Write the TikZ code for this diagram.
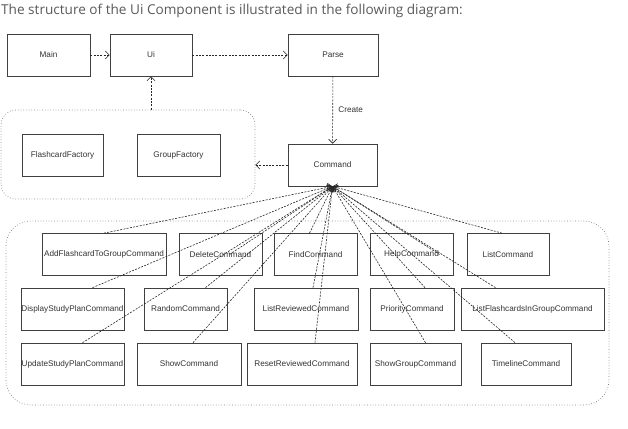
\documentclass[tikz,border=0pt]{standalone}
\usepackage{fontspec}
\setmainfont{Liberation Sans}
\newfontfamily\titlefont{Open Sans}
\usetikzlibrary{arrows.meta}

\begin{document}
\begin{tikzpicture}[x=1pt, y=-1pt,
  box/.style={draw=black!75, line width=0.7pt, inner sep=0pt, minimum height=42pt,
    font=\fontsize{8.2}{10}\selectfont, text=black!80},
  grp/.style={draw=black!50, dotted, line width=0.7pt, inner sep=0pt},
  dep/.style={black!85, dash pattern=on 2pt off 1.3pt, line width=0.6pt,
    -{Straight Barb[length=4pt, width=8pt]}}]
  \useasboundingbox (0, 0) rectangle (628, 428);
  \node[anchor=base west, inner sep=0pt, text=black!65,
    font=\titlefont\fontsize{13.6}{16}\selectfont] (title) at (1, 15)
    {The structure of the Ui Component is illustrated in the following diagram:};

  \node[grp, rounded corners=15pt, minimum width=254pt, minimum height=89pt] (factgrp) at (128, 154.5) {};
  \node[grp, rounded corners=25pt, minimum width=603pt, minimum height=184pt] (cmdgrp) at (307.5, 313) {};

  \node[box, minimum width=83pt] (main) at (48.5, 55) {Main};
  \node[box, minimum width=82pt] (ui) at (151, 55) {Ui};
  \node[box, minimum width=90pt] (parse) at (333, 55) {Parse};
  \node[box, minimum width=89pt] (cmd) at (332.5, 165) {Command};
  \node[box, minimum width=81pt] (ff) at (62.5, 155) {FlashcardFactory};
  \node[box, minimum width=83pt] (gf) at (178.5, 155) {GroupFactory};

  \node[box, minimum width=124pt] (add) at (104, 254.5) {AddFlashcardToGroupCommand};
  \node[box, minimum width=83pt] (del) at (220.5, 254.5) {DeleteCommand};
  \node[box, minimum width=83pt] (find) at (315.5, 254.5) {FindCommand};
  \node[box, minimum width=83pt] (help) at (411.5, 254.5) {HelpCommand};
  \node[box, minimum width=82pt] (list) at (508, 254.5) {ListCommand};

  \node[box, minimum width=103pt] (disp) at (72.5, 309) {DisplayStudyPlanCommand};
  \node[box, minimum width=83pt] (rand) at (185.5, 309) {RandomCommand};
  \node[box, minimum width=104pt] (lrev) at (306, 309) {ListReviewedCommand};
  \node[box, minimum width=84pt] (prio) at (412, 309) {PriorityCommand};
  \node[box, minimum width=143pt] (lfig) at (532.5, 309) {ListFlashcardsInGroupCommand};

  \node[box, minimum width=103pt] (upd) at (72.5, 364) {UpdateStudyPlanCommand};
  \node[box, minimum width=104pt] (show) at (189, 364) {ShowCommand};
  \node[box, minimum width=110pt] (reset) at (302, 364) {ResetReviewedCommand};
  \node[box, minimum width=91pt] (sgrp) at (415.5, 364) {ShowGroupCommand};
  \node[box, minimum width=90pt] (time) at (526, 364) {TimelineCommand};

  \draw[dep] (main) -- (ui);
  \draw[dep] (ui) -- (parse);
  \draw[dep] (parse) -- node[right, xshift=2pt, font=\fontsize{8.2}{10}\selectfont, text=black!80] (create) {Create} (cmd);
  \draw[dep] (cmd.west) -- (cmd.west -| factgrp.east);
  \draw[dep] (factgrp.north -| ui.south) -- (ui.south);

  \coordinate (fan) at (cmd.south);
  \foreach \n/\dx in {add/0, find/-6, list/-6, disp/20, rand/20, lrev/7, prio/13, lfig/-37,
      upd/10, show/4, reset/13, sgrp/10, time/-11}
    \draw[dep] ([xshift=\dx pt]\n.north) -- (fan);
  \draw[dep] ([xshift=9pt]del.center) -- (fan);
  \draw[dep] ([xshift=28pt]help.center) -- (fan);
\end{tikzpicture}
\end{document}
